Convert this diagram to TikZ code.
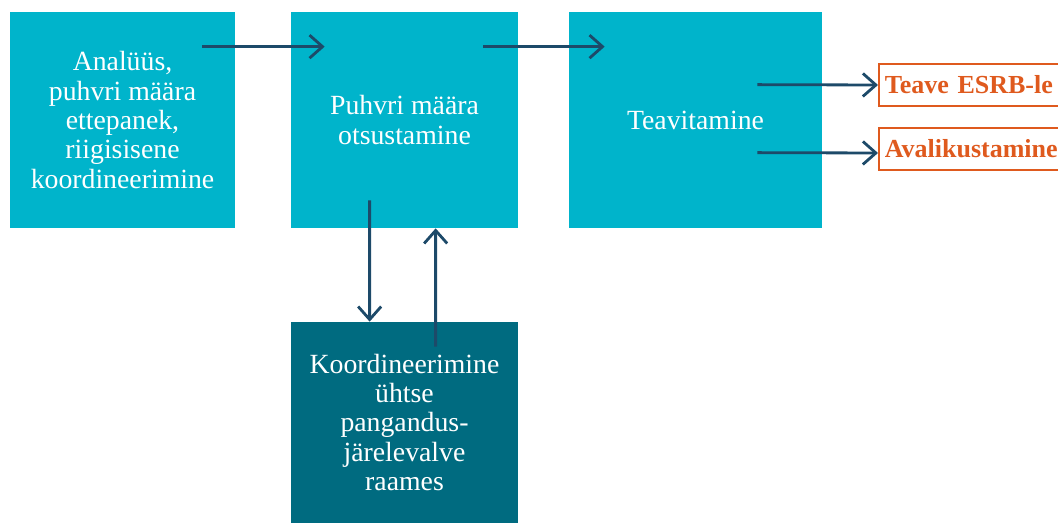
\documentclass[tikz,border=0pt]{standalone}
\usepackage{fontspec}
\setmainfont{Liberation Serif}
\usetikzlibrary{arrows.meta}
\definecolor{stagecyan}{HTML}{00B4CB}
\definecolor{stagedark}{HTML}{006B80}
\definecolor{linkblue}{HTML}{1D4A69}
\definecolor{outorange}{HTML}{DF5A1E}

\begin{document}
\begin{tikzpicture}[>={Straight Barb[length=2.6mm,width=4.6mm]},
  stage/.style={fill=stagecyan, text=white, align=center, inner sep=0pt, font=\fontsize{15.8}{16.7}\selectfont},
  outcome/.style={draw=outorange, line width=0.9pt, text=outorange, anchor=west, text width=4.4cm, align=left, inner xsep=0.12cm, minimum height=0.84cm, font=\fontsize{14.8}{16}\selectfont\bfseries},
  link/.style={->, draw=linkblue, line width=1.6pt}]
\useasboundingbox (0,0) rectangle (21.16,-10.46);
\node[stage, minimum width=4.5cm, minimum height=4.32cm] (analysis) at (2.45,-2.4) {Analüüs,\\puhvri määra\\ettepanek,\\riigisisene\\koordineerimine};
\node[stage, minimum width=4.54cm, minimum height=4.32cm] (decision) at (8.09,-2.4) {Puhvri määra\\otsustamine};
\node[stage, minimum width=5.06cm, minimum height=4.32cm] (inform) at (13.91,-2.4) {Teavitamine};
\node[stage, fill=stagedark, minimum width=4.54cm, minimum height=4.02cm] (coordination) at (8.09,-8.45) {Koordineerimine\\ühtse\\pangandus-\\järelevalve\\raames};
\node[outcome] (esrb) at (17.56,-1.7) {Teave ESRB-le};
\node[outcome] (publish) at (17.56,-2.98) {Avalikustamine};
\draw[link] ([shift={(-0.66,-0.7)}]analysis.north east) -- ([shift={(0.68,-0.7)}]decision.north west);
\draw[link] ([shift={(-0.70,-0.7)}]decision.north east) -- ([shift={(0.72,-0.7)}]inform.north west);
\draw[link] ([shift={(-1.3,-1.46)}]inform.north east) -- (esrb.west);
\draw[link] ([shift={(-1.3,-2.82)}]inform.north east) -- ([yshift=-0.08cm]publish.west);
\draw[link] ([shift={(1.58,0.56)}]decision.south west) -- ([xshift=1.58cm]coordination.north west);
\draw[link] ([shift={(2.9,-0.5)}]coordination.north west) -- ([xshift=2.9cm]decision.south west);
\end{tikzpicture}
\end{document}
